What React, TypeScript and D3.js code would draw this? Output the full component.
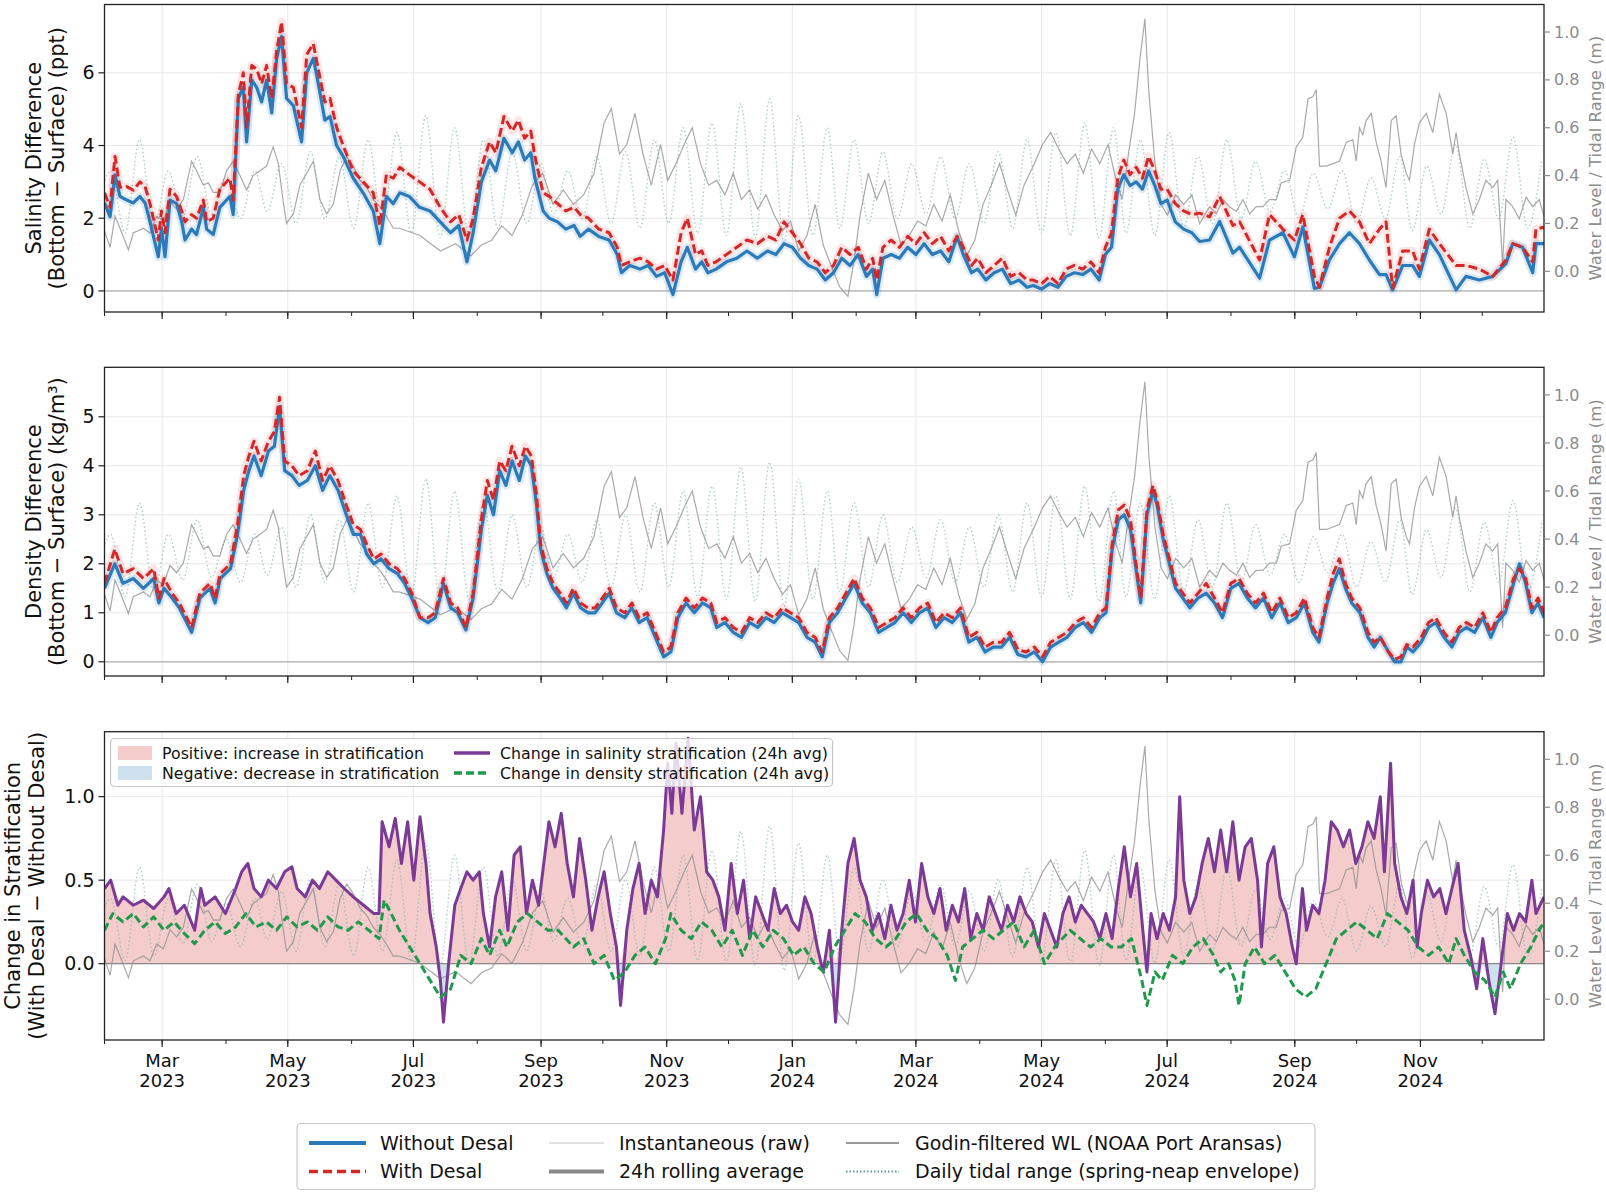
import React from "react";
import * as d3 from "d3";

// ---------------- DATA (day offsets from 2023-02-01) ----------------
const salDays = [0,2.7,5.1,7.5,10.8,14,17.2,19.7,22.1,26.1,27.7,29.4,31.8,35,37.5,39.1,42.3,44.7,48,49.6,52.8,56,60.9,62.5,65,67.4,69,71.5,73.9,76.3,78.7,81.2,83.6,86,88.4,91.7,95.7,98.2,101.4,103.8,107,109.5,112.7,115.9,120.8,125.6,130.5,133.7,136.9,140.2,143.4,
148,153,158,163,168,172,176,179,183,187,190,194,198,201,204,207,209,213,216,220,224,228,231,235,240,245,249,251,255,260,264,268,272,276,280,283,287,290,293,297,302,307,312,317,322,326,330,334,338,342,346,350,354,358,362,366,370,373,375,378,382,386,390,394,398,402,406,410,414,417,421,424,428,432,436,440,444,448,451,455,459,463,467,471,475,479,483,486,489,492,495,498,501,504,507,510,513,516,520,524,528,
531.8,536.6,541.5,547.9,551.2,560.9,565.7,572.2,577.8,581.9,587.5,590,594.8,599.7,604.5,609.4,614.2,619.1,622.3,625.5,630.4,635.2,638.5,643.3,648.2,656.3,661.1,667.6,674.1,680.5,683.8,688.6,693.5,695.1,699];
const salWithout = [2.42,2.04,3.19,2.6,2.5,2.42,2.6,2.42,1.9,0.94,1.73,0.94,2.5,2.4,1.9,1.4,1.7,1.55,2.3,1.7,1.55,2.3,2.6,2.1,5.3,5.6,4.1,5.8,5.6,5.2,5.8,4.9,6.4,7.0,5.3,5.1,4.1,6.0,6.4,5.7,4.7,4.8,4.0,3.7,3.1,2.7,2.2,1.3,2.6,2.4,2.7,
2.6,2.3,2.2,1.9,1.6,1.8,0.8,1.6,3.0,3.6,3.3,4.2,3.8,4.1,3.6,3.8,3.1,2.2,2.0,1.9,1.7,1.8,1.5,1.7,1.5,1.4,1.0,0.5,0.7,0.6,0.7,0.4,0.5,-0.1,0.8,1.2,0.6,0.8,0.5,0.6,0.8,0.9,1.1,0.9,1.1,1.0,1.3,1.2,0.9,0.7,0.6,0.3,0.5,0.9,0.7,1.0,0.4,0.6,-0.1,0.9,1.0,0.9,1.2,1.0,1.3,1.0,1.1,0.8,1.5,1.0,0.5,0.6,0.3,0.5,0.6,0.2,0.3,0.1,0.15,0.05,0.2,0.1,0.4,0.5,0.45,0.6,0.3,1.0,1.2,2.8,3.2,2.9,3.0,2.8,3.3,2.9,2.4,2.5,1.9,1.7,1.6,
1.36,1.4,1.91,1.04,1.2,0.35,1.4,1.6,0.94,1.76,0.07,0.1,0.85,1.3,1.6,1.3,0.85,0.45,0.45,0.03,0.7,0.7,0.4,1.4,1.0,0.03,0.4,0.3,0.4,0.75,1.3,1.2,0.5,1.3,1.3];
const salWith = [2.7,2.3,3.7,2.85,2.87,2.77,3.0,2.87,2.4,1.4,2.2,1.6,2.8,2.6,2.2,1.9,2.1,2.0,2.5,1.9,2.0,2.8,3.1,2.5,5.4,6.0,4.5,6.2,6.1,5.7,6.2,5.3,6.6,7.4,5.7,5.6,4.5,6.5,6.8,6.1,5.2,5.3,4.5,4.0,3.3,3.0,2.7,1.8,3.2,3.1,3.4,
3.2,3.0,2.8,2.3,1.9,2.1,1.4,2.0,3.4,4.1,3.8,4.8,4.4,4.7,4.2,4.4,3.7,2.7,2.6,2.4,2.2,2.3,2.1,2.0,1.7,1.6,1.2,0.7,0.8,0.9,0.8,0.6,0.7,0.3,1.6,2.0,1.0,1.1,0.7,0.8,1.0,1.2,1.4,1.3,1.5,1.4,1.9,1.6,1.3,0.9,0.8,0.5,0.7,1.2,1.0,1.2,0.6,0.9,0.3,1.2,1.4,1.2,1.5,1.3,1.6,1.3,1.5,1.1,1.5,1.2,0.7,0.9,0.5,0.7,0.9,0.4,0.5,0.3,0.3,0.2,0.4,0.2,0.6,0.7,0.6,0.8,0.5,1.2,1.6,3.1,3.6,3.2,3.4,3.1,3.7,3.3,2.8,2.8,2.4,2.2,2.1,
2.14,2.04,2.6,1.8,1.9,0.85,2.1,1.7,1.4,2.1,0.4,0.1,1.2,2.0,2.2,1.9,1.3,1.7,1.9,0.08,1.1,1.1,0.6,1.7,1.3,0.7,0.7,0.6,0.4,0.85,1.3,1.2,0.8,1.7,1.75];

const denDays = [0,5,9,14,18.9,23.9,26.4,28.9,32.8,36.3,42.3,46.3,51.2,53.7,56.2,61.2,64.6,67.6,70.1,72.6,76.1,79.6,82.5,85,87.5,91,94.5,98.5,102.4,105.9,109.4,113.4,117.4,120.8,124.3,127.3,130.8,134.3,138.2,142.2,145.7,149.2,153.2,157.1,160.6,164.6,168.1,171.5,175.5,179,183,185.9,188.9,191.9,194.9,197.9,201.4,204.4,207.3,209.8,211.8,214.8,217.8,221.3,224.3,227.7,231.2,234.7,238.2,241.7,245.1,248.6,252.6,256.1,259.6,263.5,267.5,271.5,275,278.4,282.4,286.4,290.4,294.4,297.3,301.3,305.3,309.3,313.3,317.2,321.2,325.2,329.2,333.1,337.1,341.1,345.1,348.5,352,356,360,364,367.9,371.9,375.9,379.9,383.8,387.8,391.8,395.8,399.8,403.7,407.7,411.7,415.7,419.7,423.6,427.6,431.6,435.6,439.5,443.5,447.5,451.5,455.5,459.4,463.4,467.4,471.4,475.3,479.3,483.3,486.3,489.3,492.3,495.2,498.2,501.2,503.2,506.2,509.1,511.1,514.1,517.1,520.1,523.6,527,531,535,539,542.9,546.9,550.9,554.9,558.9,562.8,566.8,570.8,574.8,578.7,582.7,586.7,589.7,593.7,596.6,599.6,602.6,605.6,609.6,613.5,616.5,619.5,623.5,626.5,629.5,632.4,635.4,639.4,642.9,646.4,650.4,654.3,657.8,661.3,665.3,669.3,673.2,676.2,680.2,684.2,687.1,690.1,693.1,696.1,699];
const denWithout = [1.5,2.0,1.6,1.7,1.5,1.7,1.2,1.5,1.3,1.1,0.6,1.3,1.5,1.2,1.7,1.9,2.6,3.5,3.9,4.2,3.8,4.3,4.4,5.2,3.9,3.8,3.6,3.7,4.0,3.5,3.8,3.5,3.0,2.6,2.6,2.2,2.0,2.1,1.9,1.8,1.6,1.3,0.9,0.8,0.9,1.6,1.1,1.0,0.65,1.3,2.7,3.4,3.0,3.9,3.6,4.1,3.7,4.2,4.0,3.2,2.3,1.8,1.5,1.3,1.1,1.4,1.1,1.0,1.0,1.2,1.4,1.0,0.9,1.1,0.8,0.9,0.5,0.1,0.2,0.9,1.2,1.0,1.2,1.1,0.7,0.8,0.6,0.5,0.8,0.7,0.9,0.8,1.0,0.9,0.8,0.5,0.4,0.1,0.8,1.0,1.3,1.6,1.2,1.0,0.6,0.7,0.8,1.0,0.8,1.0,1.1,0.7,0.9,0.8,1.0,0.4,0.5,0.2,0.3,0.3,0.5,0.15,0.1,0.2,0.0,0.3,0.4,0.5,0.7,0.8,0.6,0.9,1.0,2.3,2.9,3.0,2.7,1.8,1.2,3.0,3.5,3.2,2.5,2.0,1.5,1.3,1.1,1.3,1.4,1.2,0.9,1.5,1.6,1.3,1.1,1.3,0.9,1.2,0.8,0.9,1.2,0.6,0.4,1.2,1.6,1.9,1.5,1.2,1.0,0.5,0.3,0.5,0.2,0.0,0.0,0.3,0.2,0.4,0.7,0.8,0.5,0.3,0.6,0.7,0.6,0.9,0.5,0.8,1.0,1.6,2.0,1.6,1.0,1.2,0.9];
const denWith = [1.6,2.3,1.8,1.9,1.7,1.9,1.3,1.7,1.4,1.2,0.7,1.4,1.6,1.3,1.8,2.0,2.8,3.8,4.2,4.5,4.1,4.5,4.7,5.4,4.1,4.0,3.8,3.9,4.3,3.7,4.0,3.7,3.2,2.8,2.7,2.4,2.1,2.2,2.0,1.9,1.7,1.4,0.9,0.9,1.0,1.7,1.2,1.1,0.7,1.4,2.9,3.7,3.3,4.1,3.9,4.4,4.0,4.4,4.2,3.4,2.4,1.9,1.6,1.4,1.2,1.5,1.2,1.1,1.1,1.3,1.5,1.1,1.0,1.2,0.9,1.0,0.6,0.2,0.3,1.0,1.3,1.1,1.3,1.2,0.8,0.9,0.7,0.6,0.9,0.8,1.0,0.9,1.1,1.0,0.9,0.6,0.5,0.2,0.9,1.1,1.4,1.7,1.3,1.1,0.7,0.8,0.9,1.1,0.9,1.1,1.2,0.8,1.0,0.9,1.1,0.5,0.6,0.3,0.4,0.4,0.6,0.25,0.2,0.3,0.1,0.4,0.5,0.6,0.8,0.9,0.7,1.0,1.1,2.4,3.1,3.2,2.9,1.9,1.3,3.1,3.6,3.3,2.6,2.1,1.6,1.4,1.2,1.4,1.6,1.3,1.0,1.6,1.7,1.4,1.2,1.4,1.0,1.3,0.9,1.0,1.3,0.7,0.5,1.3,1.8,2.1,1.6,1.3,1.1,0.6,0.4,0.5,0.2,0.05,0.1,0.35,0.3,0.5,0.8,0.9,0.6,0.4,0.7,0.8,0.7,1.0,0.6,0.9,1.1,1.7,1.9,1.7,1.1,1.3,1.0];

const salChgDays = [0,3,6.5,9,14,18.9,23.9,28.9,31.3,34.8,38.8,43.8,46.8,48.7,53.7,58.7,63.7,66.6,69.6,72.6,76.1,79.6,83.5,87.5,91,93.5,97.5,101,104.4,108.4,112.4,116.4,120.8,125.8,130.8,133.3,134.8,138.2,141.2,144.2,147.2,150.2,153.2,156.1,158.1,161.1,163.1,164.6,167.1,170.1,173,176,179,182,184,187,189.9,192.9,195.9,198.9,201.9,204.9,207.8,210.8,212.8,215.8,218.8,221.8,224.7,227.7,230.7,233.7,236.7,239.7,242.6,245.6,248.6,250.6,253.6,256.6,259.6,262.5,265.5,268.5,271.5,273.5,275.5,277.5,280.4,283.4,286.4,289.4,292.4,295.4,298.3,301.3,304.3,307.3,310.3,313.3,316.2,319.2,322.2,325.2,328.2,331.2,334.1,337.1,340.1,343.1,346.1,349,352,355,358,361,364,366.9,369.9,372.9,375.9,378.9,381.9,384.8,387.8,390.8,393.8,396.8,399.8,402.7,405.7,408.7,411.7,414.7,417.7,420.6,423.6,426.6,429.6,432.6,435.6,438.5,441.5,444.5,447.5,450.5,453.5,456.4,459.4,462.4,465.4,468.4,471.4,474.3,477.3,480.3,483.3,486.3,489.3,492.3,495.2,498.2,501.2,504.2,506.2,508.2,511.1,514.1,517.1,520.1,522.1,524.1,527,530,533,536,539,542,544.9,547.9,550.9,553.9,556.9,559.9,561.8,564.8,567.8,570.8,573.8,576.8,578.7,581.7,583.7,586.7,589.7,592.7,595.7,598.6,601.6,604.6,607.6,610.6,613.5,616.5,619.5,621.5,624.5,626.5,629.5,632.4,635.4,637.4,639.4,642.4,645.4,648.4,651.4,654.3,657.3,660.3,663.3,666.3,669.3,672.2,675.2,678.2,681.2,684.2,687.1,690.1,693.1,695.1,699];
const salChg = [0.45,0.5,0.35,0.4,0.35,0.38,0.33,0.4,0.45,0.3,0.35,0.2,0.45,0.35,0.4,0.3,0.45,0.55,0.6,0.45,0.4,0.5,0.45,0.55,0.58,0.45,0.4,0.5,0.45,0.55,0.5,0.45,0.4,0.35,0.3,0.3,0.85,0.7,0.87,0.6,0.85,0.5,0.88,0.6,0.3,0.1,-0.1,-0.35,0.0,0.35,0.45,0.55,0.5,0.55,0.3,0.1,0.4,0.55,0.2,0.65,0.7,0.3,0.5,0.35,0.55,0.85,0.7,0.9,0.6,0.4,0.75,0.5,0.2,0.4,0.55,0.3,0.1,-0.25,0.2,0.45,0.6,0.3,0.5,0.4,0.8,1.2,0.9,1.32,0.9,1.35,0.8,1.0,0.55,0.5,0.4,0.2,0.6,0.3,0.5,0.15,0.4,0.3,0.2,0.45,0.3,0.35,0.25,0.2,0.4,0.3,0.1,-0.05,0.2,-0.35,0.2,0.6,0.75,0.5,0.4,0.2,0.3,0.15,0.35,0.2,0.3,0.5,0.25,0.6,0.4,0.3,0.45,0.2,0.35,0.25,0.45,0.15,0.3,0.2,0.4,0.3,0.2,0.35,0.25,0.4,0.3,0.25,0.1,0.3,0.2,0.1,0.3,0.4,0.25,0.35,0.3,0.25,0.15,0.3,0.15,0.45,0.7,0.4,0.6,0.2,-0.05,0.3,0.15,0.3,0.2,0.4,1.0,0.5,0.3,0.4,0.6,0.75,0.55,0.8,0.55,0.85,0.5,0.7,0.75,0.5,0.1,0.6,0.7,0.4,0.3,0.1,0.0,0.45,0.2,0.35,0.3,0.5,0.85,0.8,0.7,0.8,0.6,0.7,0.85,0.75,1.0,0.55,1.2,0.6,0.4,0.3,0.5,0.1,0.3,0.5,0.4,0.45,0.3,0.45,0.6,0.2,0.05,-0.15,0.15,-0.1,-0.3,0.0,0.3,0.2,0.3,0.25,0.5,0.3,0.4];

const denChgDays = [0,4,9,14,18.9,23.9,28.9,33.8,38.8,43.8,48.7,53.7,58.7,63.7,68.6,73.6,78.6,83.5,88.5,93.5,98.5,103.4,108.4,113.4,118.3,123.3,128.3,133.3,135.8,139.2,143.2,148.2,153.2,158.1,163.1,168.1,173,178,183,187,191.9,195.4,200.4,205.4,210.3,215.3,220.3,227.7,232.7,237.7,242.6,247.6,252.6,257.6,262.5,267.5,272.5,275,280,284.9,289.9,294.9,299.8,304.8,309.8,314.7,319.7,324.7,329.7,334.6,339.6,344.6,349.5,354.5,359.5,364.5,369.4,374.4,379.4,384.3,389.3,394.3,399.3,404.2,409.2,413.2,416.7,421.6,426.6,431.6,436.5,441.5,446.5,451.5,456.4,461.4,468.9,473.8,478.8,483.8,488.8,493.7,498.7,503.7,506.2,510.1,513.6,518.6,523.6,528.5,533.5,538.5,542,545.9,548.9,550.9,553.9,558.4,563.3,568.3,573.3,578.3,583.2,588.2,593.2,598.2,603.1,608.1,613.1,618,623,628,633,637.9,642.9,647.9,652.8,656.3,660.3,665.3,670.3,675.2,679.2,682.7,687.6,692.6,696.6,699];
const denChg = [0.2,0.3,0.25,0.3,0.22,0.28,0.2,0.25,0.18,0.12,0.2,0.25,0.18,0.22,0.3,0.22,0.25,0.2,0.28,0.22,0.25,0.2,0.28,0.22,0.2,0.25,0.2,0.15,0.38,0.3,0.2,0.1,0.0,-0.1,-0.2,-0.15,0.05,0.0,0.15,0.05,0.2,0.1,0.25,0.3,0.25,0.2,0.2,0.1,0.15,0.0,0.05,-0.1,-0.05,0.05,0.1,0.0,0.15,0.3,0.2,0.15,0.25,0.2,0.1,0.2,0.05,0.2,0.1,0.2,0.15,0.05,0.1,0.0,-0.05,0.1,0.2,0.3,0.25,0.15,0.1,0.15,0.25,0.3,0.2,0.15,0.05,-0.1,0.1,0.15,0.2,0.15,0.2,0.25,0.1,0.2,0.0,0.1,0.2,0.15,0.1,0.15,0.1,0.1,0.15,-0.1,-0.25,-0.05,-0.1,0.05,0.0,0.1,0.15,0.05,-0.05,0.0,-0.1,-0.25,0.0,0.1,0.0,0.05,-0.05,-0.15,-0.2,-0.15,0.0,0.15,0.2,0.25,0.2,0.15,0.3,0.25,0.2,0.1,0.05,0.1,0.0,0.15,0.05,-0.05,-0.1,-0.2,-0.05,-0.15,0.0,0.1,0.2,0.25];

const wlDays = [0,2.7,5.1,7.5,11.6,14,18.9,22.1,25.3,28.6,31.8,35,38.3,42.3,44.7,48,50.4,52.8,56,59.3,62.5,65.8,69,72.2,75.5,78.7,81.9,84.4,86.8,88.4,91.7,94.9,98.2,101.4,104.6,107.9,111.1,114.4,117.6,120.8,124.1,127.3,130.5,133.7,136.9,140.2,
143.2,153.2,163.1,170.5,178,183,188,192.9,197.9,202.9,207.8,212.8,217.8,222.8,227.7,232.7,237.7,242.6,246.1,250.1,253.6,257.6,261.5,265.5,270,273.5,277.5,281.4,285.4,289.4,293.4,297.3,301.3,305.3,309.3,313.3,317.2,321.2,325.2,329.2,333.1,337.1,341.1,345.1,349,353,357,361,364,366.9,370.9,374.9,378.9,382.9,386.8,390.8,394.8,398.8,402.7,406.7,410.7,414.7,418.7,422.6,426.6,430.6,434.6,438.5,442.5,446.5,451.5,455.5,459.4,463.4,467.4,471.4,475.3,479.3,483.3,487.3,491.2,494.2,497.2,500.2,502.7,505.2,507.1,510.1,513.1,516.1,520.1,524.1,528,
531.8,536.6,539.9,543.1,546.3,549.6,552.8,556.1,559.3,562.5,565.7,569,571.4,575.5,578.7,581.9,584.4,586.8,588.4,590,593.3,596.5,599.7,603,606.2,607.8,609.4,611,612.6,615.1,617.5,619.9,622.3,624.8,627.2,629.6,632.1,633.7,636.1,638.5,641.8,645,648.2,651.5,654.7,656.3,657.9,661.1,664.4,667.6,670.8,674.1,676.5,678.9,680.5,683.8,687,690.3,693.5,696.7,699];
const wlGodin = [0.17,0.10,0.23,0.18,0.09,0.16,0.18,0.16,0.23,0.21,0.29,0.26,0.30,0.46,0.42,0.36,0.37,0.33,0.33,0.42,0.46,0.40,0.34,0.40,0.42,0.44,0.52,0.45,0.29,0.20,0.24,0.36,0.41,0.46,0.30,0.24,0.28,0.42,0.48,0.44,0.38,0.35,0.30,0.27,0.23,0.18,
0.18,0.15,0.085,0.115,0.065,0.11,0.13,0.19,0.15,0.235,0.36,0.41,0.28,0.34,0.28,0.32,0.41,0.62,0.68,0.49,0.53,0.66,0.49,0.36,0.53,0.38,0.45,0.53,0.60,0.45,0.36,0.38,0.32,0.41,0.30,0.34,0.26,0.32,0.235,0.17,0.21,0.085,0.15,0.28,0.11,0.02,-0.065,-0.105,0.045,0.235,0.41,0.30,0.38,0.235,0.11,0.15,0.21,0.19,0.28,0.21,0.32,0.17,0.065,0.13,0.28,0.36,0.45,0.34,0.235,0.36,0.45,0.53,0.58,0.51,0.45,0.49,0.41,0.51,0.45,0.53,0.38,0.30,0.49,0.66,0.88,1.055,0.75,0.45,0.28,0.235,0.32,0.28,0.32,
0.20,0.27,0.24,0.30,0.27,0.25,0.30,0.24,0.27,0.27,0.30,0.30,0.37,0.38,0.52,0.56,0.72,0.73,0.76,0.44,0.44,0.45,0.46,0.54,0.55,0.46,0.60,0.57,0.63,0.66,0.54,0.46,0.35,0.63,0.65,0.49,0.41,0.38,0.53,0.62,0.66,0.58,0.74,0.66,0.49,0.58,0.49,0.35,0.24,0.30,0.38,0.35,0.38,0.03,0.30,0.27,0.22,0.31,0.27,0.30,0.23];

const tideDays = [0,3,10,17,24,31,38,45,52,59,66,73,79,86,93,100,107,114,121,128,135,142,149,156,163,170,177,184,191,198,205,212,218,225,232,239,246,253,260,267,274,281,288,295,302,309,316,323,330,337,344,351,357,364,371,378,385,392,399,406,413,420,427,434,441,448,455,462,469,476,483,490,496,503,510,517,524,531,538,545,552,559,566,573,580,587,594,601,608,615,622,629,635,642,649,656,663,670,677,684,691,698];
const tideRange = [0.38,0.42,0.16,0.55,0.18,0.42,0.23,0.48,0.24,0.40,0.22,0.42,0.25,0.45,0.2,0.50,0.22,0.48,0.18,0.55,0.2,0.58,0.16,0.65,0.14,0.60,0.15,0.55,0.18,0.50,0.2,0.45,0.24,0.42,0.22,0.48,0.2,0.50,0.18,0.55,0.2,0.60,0.16,0.62,0.15,0.70,0.14,0.72,0.12,0.65,0.15,0.60,0.18,0.55,0.2,0.50,0.22,0.45,0.24,0.48,0.22,0.45,0.2,0.50,0.18,0.55,0.16,0.58,0.15,0.62,0.14,0.60,0.16,0.55,0.15,0.58,0.18,0.48,0.2,0.55,0.22,0.46,0.25,0.42,0.22,0.41,0.26,0.42,0.2,0.39,0.22,0.48,0.17,0.44,0.24,0.53,0.18,0.47,0.22,0.56,0.18,0.47];

const leftTicks1 = [0, 2, 4, 6];
const leftTicks2 = [0, 1, 2, 3, 4, 5];
const leftTicks3 = [0, 0.5, 1.0];
const rightTicks = [0, 0.2, 0.4, 0.6, 0.8, 1.0];

// ---------------- LAYOUT ----------------
const W = 1606, H = 1192;
const X0 = 104.5, X1 = 1544;
const FONT = "DejaVu Sans, Verdana, sans-serif";
const BLUE = "#2b7bba", RED = "#d62728", PURPLE = "#7b3a96", GREEN = "#1f9a4c";
const WLC = "#8c8c8c", TIDEC = "#7eaaab";

const BASE = Date.UTC(2023, 1, 1);
const toDate = (d: number) => new Date(BASE + d * 86400000);
const x = d3.scaleUtc().domain([new Date(Date.UTC(2023, 1, 1)), new Date(Date.UTC(2024, 11, 31))]).range([X0, X1]);
const zip = (ds: number[], vs: number[]) => ds.map((d, i) => [d, vs[i]] as [number, number]);

const majorTicks = x.ticks(d3.utcMonth.every(2) as any);
const minorTicks = x.ticks(d3.utcMonth.every(1) as any);
const monthFmt = d3.utcFormat("%b");
const yearFmt = d3.utcFormat("%Y");

type PanelCfg = {
  id: string; top: number; bottom: number; yDomain: [number, number]; ticks: number[];
  fmt: (v: number) => string; label: string[]; labelX: number[]; kind: string;
};

const panels: PanelCfg[] = [
  { id: "p1", top: 4.5, bottom: 312, yDomain: [-0.58, 7.88], ticks: leftTicks1, fmt: (v) => String(v),
    label: ["Salinity Difference", "(Bottom \u2212 Surface) (ppt)"], labelX: [34, 57], kind: "sal" },
  { id: "p2", top: 367.3, bottom: 676, yDomain: [-0.29, 6.01], ticks: leftTicks2, fmt: (v) => String(v),
    label: ["Density Difference", "(Bottom \u2212 Surface) (kg/m\u00b3)"], labelX: [34, 57], kind: "den" },
  { id: "p3", top: 731.7, bottom: 1040, yDomain: [-0.457, 1.389], ticks: leftTicks3, fmt: d3.format(".1f"),
    label: ["Change in Stratification", "(With Desal \u2212 Without Desal)"], labelX: [13, 37], kind: "chg" },
];

function Panel({ cfg }: { cfg: PanelCfg }) {
  const y = d3.scaleLinear().domain(cfg.yDomain).range([cfg.bottom, cfg.top]);
  const yr = d3.scaleLinear().domain([-0.17, 1.115]).range([cfg.bottom, cfg.top]);
  const line = d3.line<[number, number]>().x((d) => x(toDate(d[0]))).y((d) => y(d[1]));
  const liner = d3.line<[number, number]>().x((d) => x(toDate(d[0]))).y((d) => yr(d[1]));
  const tideLine = d3.line<[number, number]>().x((d) => x(toDate(d[0]))).y((d) => yr(d[1])).curve(d3.curveMonotoneX);
  const cy = (cfg.top + cfg.bottom) / 2;
  const clip = `clip-${cfg.id}`;
  const isLast = cfg.kind === "chg";

  let main: React.ReactNode = null;
  if (cfg.kind === "sal" || cfg.kind === "den") {
    const a = cfg.kind === "sal" ? zip(salDays, salWithout) : zip(denDays, denWithout);
    const b = cfg.kind === "sal" ? zip(salDays, salWith) : zip(denDays, denWith);
    main = (
      <g>
        <path d={line(a) || ""} fill="none" stroke={BLUE} strokeOpacity={0.16} strokeWidth={8} strokeLinejoin="round" />
        <path d={line(b) || ""} fill="none" stroke={RED} strokeOpacity={0.12} strokeWidth={8} strokeLinejoin="round" />
        <path d={line(a) || ""} fill="none" stroke={BLUE} strokeWidth={3.2} strokeLinejoin="round" />
        <path d={line(b) || ""} fill="none" stroke={RED} strokeWidth={3} strokeDasharray="9,4" strokeLinejoin="round" />
      </g>
    );
  } else {
    const s = zip(salChgDays, salChg);
    const dd = zip(denChgDays, denChg);
    const pos = d3.area<[number, number]>().x((d) => x(toDate(d[0]))).y0(y(0)).y1((d) => y(Math.max(0, d[1])));
    const neg = d3.area<[number, number]>().x((d) => x(toDate(d[0]))).y0(y(0)).y1((d) => y(Math.min(0, d[1])));
    main = (
      <g>
        <path d={pos(s) || ""} fill="#f4cccc" />
        <path d={neg(s) || ""} fill="#cfe1ef" />
        <line x1={X0} x2={X1} y1={y(0)} y2={y(0)} stroke="#888" strokeWidth={1.3} />
        <path d={liner(zip(wlDays, wlGodin)) || ""} fill="none" stroke={WLC} strokeOpacity={0.75} strokeWidth={1.2} />
        <path d={tideLine(zip(tideDays, tideRange)) || ""} fill="none" stroke={TIDEC} strokeOpacity={0.6} strokeWidth={1.4} strokeDasharray="1.5,2.5" />
        <path d={line(s) || ""} fill="none" stroke={PURPLE} strokeWidth={3} strokeLinejoin="round" />
        <path d={line(dd) || ""} fill="none" stroke={GREEN} strokeWidth={3} strokeDasharray="8,4" strokeLinejoin="round" />
      </g>
    );
  }

  return (
    <g>
      <defs>
        <clipPath id={clip}>
          <rect x={X0} y={cfg.top} width={X1 - X0} height={cfg.bottom - cfg.top} />
        </clipPath>
      </defs>
      {majorTicks.map((t, i) => (
        <line key={"gx" + i} x1={x(t)} x2={x(t)} y1={cfg.top} y2={cfg.bottom} stroke="#e8e8e8" strokeWidth={1} />
      ))}
      {cfg.ticks.map((t, i) => (
        <line key={"gy" + i} x1={X0} x2={X1} y1={y(t)} y2={y(t)} stroke="#e8e8e8" strokeWidth={1} />
      ))}
      <g clipPath={`url(#${clip})`}>
        {cfg.kind !== "chg" && (
          <g>
            <line x1={X0} x2={X1} y1={y(0)} y2={y(0)} stroke="#b0b0b0" strokeWidth={1.3} />
            <path d={liner(zip(wlDays, wlGodin)) || ""} fill="none" stroke={WLC} strokeOpacity={0.75} strokeWidth={1.2} />
            <path d={tideLine(zip(tideDays, tideRange)) || ""} fill="none" stroke={TIDEC} strokeOpacity={0.6} strokeWidth={1.4} strokeDasharray="1.5,2.5" />
          </g>
        )}
        {main}
      </g>
      <rect x={X0} y={cfg.top} width={X1 - X0} height={cfg.bottom - cfg.top} fill="none" stroke="#222" strokeWidth={1.3} />
      {cfg.ticks.map((t, i) => (
        <g key={"lt" + i}>
          <line x1={X0 - 6} x2={X0} y1={y(t)} y2={y(t)} stroke="#222" strokeWidth={1.2} />
          <text x={X0 - 10} y={y(t)} dy="0.35em" textAnchor="end" fontSize={19} fontFamily={FONT} fill="#111">{cfg.fmt(t)}</text>
        </g>
      ))}
      {rightTicks.map((t, i) => (
        <g key={"rt" + i}>
          <line x1={X1} x2={X1 + 6} y1={yr(t)} y2={yr(t)} stroke="#8c8c8c" strokeWidth={1.2} />
          <text x={X1 + 10} y={yr(t)} dy="0.35em" textAnchor="start" fontSize={16} fontFamily={FONT} fill="#8c8c8c">{d3.format(".1f")(t)}</text>
        </g>
      ))}
      {minorTicks.map((t, i) => (
        <line key={"mn" + i} x1={x(t)} x2={x(t)} y1={cfg.bottom} y2={cfg.bottom + 4} stroke="#222" strokeWidth={1} />
      ))}
      {majorTicks.map((t, i) => (
        <g key={"mj" + i}>
          <line x1={x(t)} x2={x(t)} y1={cfg.bottom} y2={cfg.bottom + 7} stroke="#222" strokeWidth={1.2} />
          {isLast && (
            <g>
              <text x={x(t)} y={cfg.bottom + 21} dy="0.35em" textAnchor="middle" fontSize={18} fontFamily={FONT} fill="#111">{monthFmt(t)}</text>
              <text x={x(t)} y={cfg.bottom + 41} dy="0.35em" textAnchor="middle" fontSize={18} fontFamily={FONT} fill="#111">{yearFmt(t)}</text>
            </g>
          )}
        </g>
      ))}
      {cfg.label.map((s, i) => (
        <text key={"yl" + i} transform={`translate(${cfg.labelX[i]},${cy}) rotate(-90)`} textAnchor="middle" dy="0.35em" fontSize={21} fontFamily={FONT} fill="#111">{s}</text>
      ))}
      <text transform={`translate(1595,${cy}) rotate(-90)`} textAnchor="middle" dy="0.35em" fontSize={16.5} fontFamily={FONT} fill="#8c8c8c">Water Level / Tidal Range (m)</text>
      {isLast && <PanelLegend />}
    </g>
  );
}

function PanelLegend() {
  const fs = 15.8;
  return (
    <g fontFamily={FONT} fontSize={fs} fill="#111">
      <rect x={110.6} y={738.5} width={722} height={48} rx={4} fill="#fff" fillOpacity={0.8} stroke="#c8c8c8" strokeWidth={1.2} />
      <rect x={118} y={746} width={34} height={14} fill="#f4cccc" />
      <rect x={118} y={766} width={34} height={14} fill="#cfe1ef" />
      <text x={162} y={753} dy="0.35em">Positive: increase in stratification</text>
      <text x={162} y={773} dy="0.35em">Negative: decrease in stratification</text>
      <line x1={454} x2={490} y1={753} y2={753} stroke={PURPLE} strokeWidth={3.5} />
      <line x1={454} x2={490} y1={773} y2={773} stroke={GREEN} strokeWidth={3.5} strokeDasharray="8,4" />
      <text x={500} y={753} dy="0.35em">Change in salinity stratification (24h avg)</text>
      <text x={500} y={773} dy="0.35em">Change in density stratification (24h avg)</text>
    </g>
  );
}

function BottomLegend() {
  const r1 = 1143, r2 = 1171.5;
  return (
    <g fontFamily={FONT} fontSize={19} fill="#111">
      <rect x={297} y={1123.5} width={1018} height={66} rx={4} fill="#fff" stroke="#c8c8c8" strokeWidth={1.2} />
      <line x1={309} x2={366} y1={r1} y2={r1} stroke={BLUE} strokeWidth={4} />
      <line x1={309} x2={366} y1={r2} y2={r2} stroke={RED} strokeWidth={3.5} strokeDasharray="9,5" />
      <text x={380} y={r1} dy="0.35em">Without Desal</text>
      <text x={380} y={r2} dy="0.35em">With Desal</text>
      <line x1={549} x2={604} y1={r1} y2={r1} stroke="#c4c4c4" strokeWidth={1} />
      <line x1={549} x2={604} y1={r2} y2={r2} stroke="#888" strokeWidth={4} />
      <text x={619} y={r1} dy="0.35em">Instantaneous (raw)</text>
      <text x={619} y={r2} dy="0.35em">24h rolling average</text>
      <line x1={846} x2={899} y1={r1} y2={r1} stroke="#777" strokeWidth={1.5} />
      <line x1={846} x2={899} y1={r2} y2={r2} stroke="#5f9595" strokeWidth={2} strokeDasharray="1.5,2" />
      <text x={915} y={r1} dy="0.35em">Godin-filtered WL (NOAA Port Aransas)</text>
      <text x={915} y={r2} dy="0.35em">Daily tidal range (spring-neap envelope)</text>
    </g>
  );
}

export default function App() {
  return (
    <svg width={W} height={H} viewBox={`0 0 ${W} ${H}`} style={{ position: "absolute", left: 0, top: 0, background: "#fff" }}>
      <rect x={0} y={0} width={W} height={H} fill="#fff" />
      {panels.map((p) => (
        <Panel key={p.id} cfg={p} />
      ))}
      <BottomLegend />
    </svg>
  );
}
